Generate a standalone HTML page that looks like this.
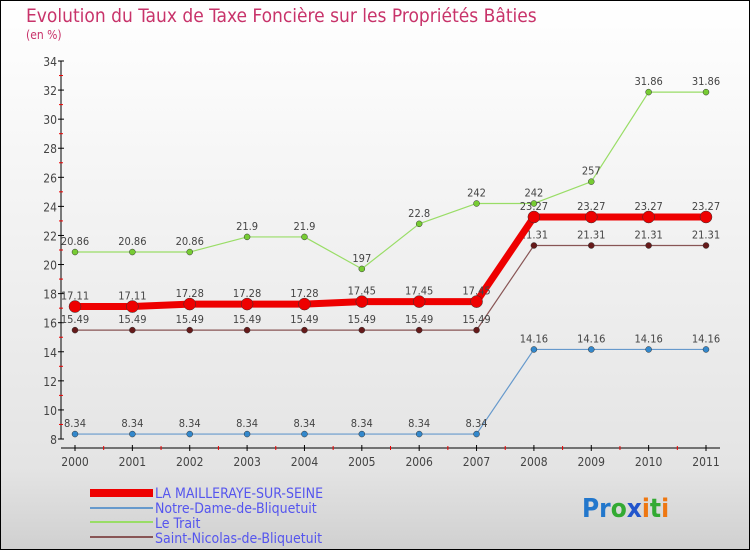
<!DOCTYPE html>
<html><head><meta charset="utf-8"><style>
body{margin:0}
svg{display:block;font-family:"DejaVu Sans Condensed","Liberation Sans",sans-serif}
</style></head><body>
<svg id="c" width="750" height="550" xmlns="http://www.w3.org/2000/svg">
<defs><linearGradient id="bg" x1="0" y1="0" x2="0" y2="1">
<stop offset="0" stop-color="#ffffff"/><stop offset="0.85" stop-color="#e4e4e4"/><stop offset="1" stop-color="#d0d0d0"/></linearGradient></defs>
<rect x="0.5" y="0.5" width="749" height="549" fill="url(#bg)" stroke="#000"/>
<text x="26" y="22" font-size="19" fill="#c8336a">Evolution du Taux de Taxe Foncière sur les Propriétés Bâties</text>
<text x="26" y="39" font-size="12" fill="#c8336a">(en %)</text>
<g id="axes"></g><g id="series"></g>
<g>
<rect x="90" y="489" width="63" height="8" fill="#ee0000"/>
<line x1="90" y1="508" x2="153" y2="508" stroke="#6699cc" stroke-width="2"/>
<line x1="90" y1="522" x2="153" y2="522" stroke="#99dd66" stroke-width="2"/>
<line x1="90" y1="537" x2="153" y2="537" stroke="#885555" stroke-width="2"/>
<g font-size="14" fill="#5555ee">
<text x="155" y="498">LA MAILLERAYE-SUR-SEINE</text>
<text x="155" y="513">Notre-Dame-de-Bliquetuit</text>
<text x="155" y="528">Le Trait</text>
<text x="155" y="543">Saint-Nicolas-de-Bliquetuit</text>
</g></g>
<g font-size="26" font-weight="bold">
<text x="582" y="517"><tspan fill="#2277cc">Pr</tspan><tspan fill="#33aa33">o</tspan><tspan fill="#2255cc">x</tspan><tspan fill="#ee7711">i</tspan><tspan fill="#33aa33">t</tspan><tspan fill="#ee7711">i</tspan></text>
</g>
</svg>
<script>
const years=["2000","2001","2002","2003","2004","2005","2006","2007","2008","2009","2010","2011"];
const yTicks=[8,10,12,14,16,18,20,22,24,26,28,30,32,34];
const laMailleraye=[17.11,17.11,17.28,17.28,17.28,17.45,17.45,17.45,23.27,23.27,23.27,23.27];
const notreDame=[8.34,8.34,8.34,8.34,8.34,8.34,8.34,8.34,14.16,14.16,14.16,14.16];
const leTrait=[20.86,20.86,20.86,21.9,21.9,19.7,22.8,24.2,24.2,25.7,31.86,31.86];
const saintNicolas=[15.49,15.49,15.49,15.49,15.49,15.49,15.49,15.49,21.31,21.31,21.31,21.31];
const leTraitLabels=["20.86","20.86","20.86","21.9","21.9","197","22.8","242","242","257","31.86","31.86"];
const NS="http://www.w3.org/2000/svg";
const X=i=>75+i*(631/11);
const Y=v=>439-(v-8)*(378/26);
function mk(p,t,a){const e=document.createElementNS(NS,t);for(const k in a)e.setAttribute(k,a[k]);p.appendChild(e);return e;}
const ax=document.getElementById('axes'),se=document.getElementById('series');
let l=mk(ax,'line',{x1:61,y1:61,x2:61,y2:439,stroke:'#000'});

l=mk(ax,'line',{x1:61,y1:448,x2:720,y2:448,stroke:'#000'});

yTicks.forEach(v=>{const y=Y(v);
 mk(ax,'line',{x1:58,y1:y,x2:64,y2:y,stroke:'#000'});
 if(v<34)mk(ax,'line',{x1:59,y1:Y(v+1),x2:63,y2:Y(v+1),stroke:'#e00'});
 const t=mk(ax,'text',{x:57,y:y+5,'font-size':12,fill:'#444','text-anchor':'end'});t.textContent=v;
 });
years.forEach((yr,i)=>{const x=X(i);
 mk(ax,'line',{x1:x,y1:445,x2:x,y2:451,stroke:'#000'});
 if(i<11)mk(ax,'line',{x1:(x+X(i+1))/2,y1:446,x2:(x+X(i+1))/2,y2:450,stroke:'#e00'});
 const t=mk(ax,'text',{x:x,y:466,'font-size':12,fill:'#444','text-anchor':'middle'});t.textContent=yr;
 });
function series(name,vals,color,dot,w,r,labels){
 const g=mk(se,'g',{});
 
 mk(g,'polyline',{points:vals.map((v,i)=>X(i)+','+Y(v)).join(' '),fill:'none',stroke:color,'stroke-width':w,'stroke-linejoin':'round'});
 vals.forEach((v,i)=>{const c=mk(g,'circle',{cx:X(i),cy:Y(v),r:r,fill:dot,stroke:'#333','stroke-width':0.5});
  
  const t=mk(g,'text',{x:X(i),y:Y(v)-7,'font-size':11,fill:'#444','text-anchor':'middle'});
  t.textContent=labels?labels[i]:String(v);});
}
series('series-saint-nicolas',saintNicolas,'#885555','#661a1a',1.2,3,null);
series('series-notre-dame',notreDame,'#6699cc','#3388cc',1.2,3,null);
series('series-le-trait',leTrait,'#99dd66','#77cc33',1.2,3,leTraitLabels);
series('series-la-mailleraye',laMailleraye,'#ee0000','#ee0000',7,6,null);
</script>
</body></html>
